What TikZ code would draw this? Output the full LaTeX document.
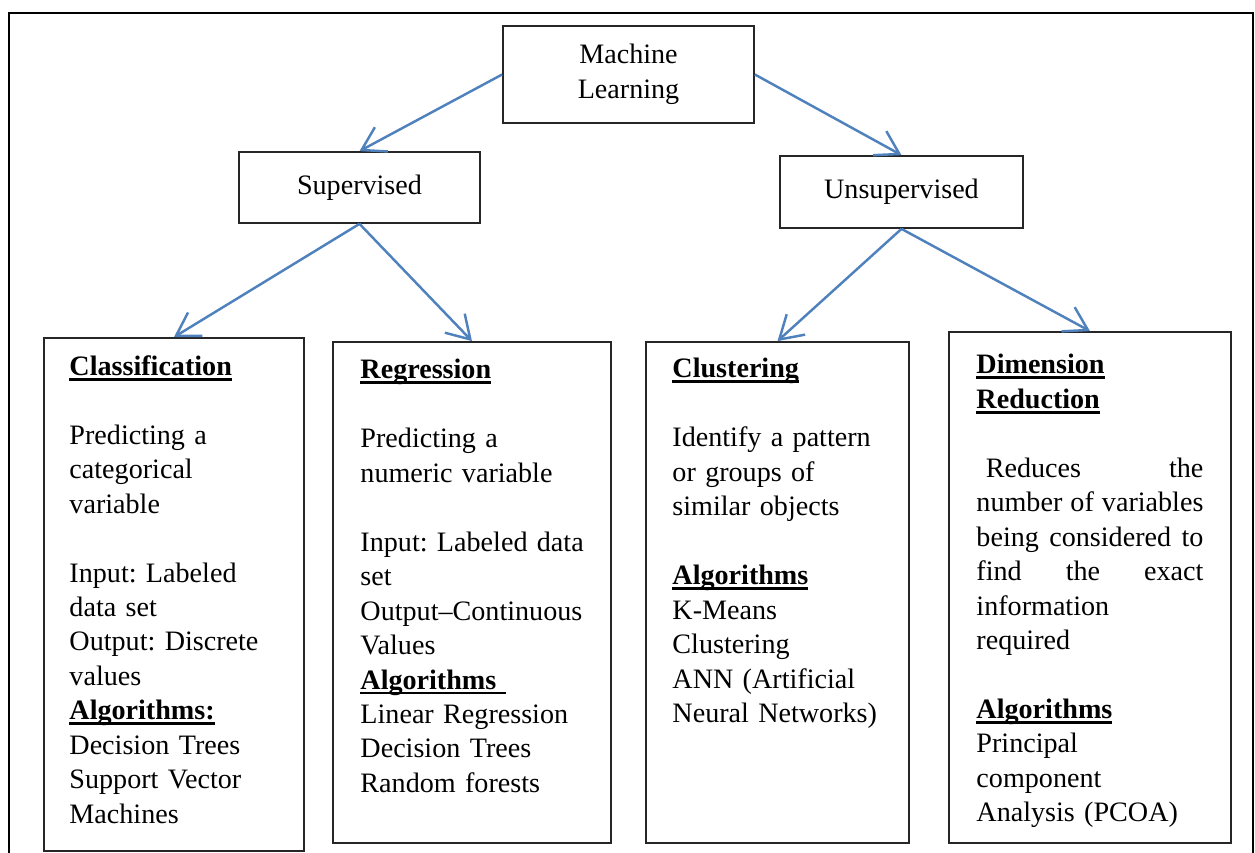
\documentclass[tikz,border=0pt]{standalone}
\usepackage{fontspec}
\setmainfont{Liberation Serif}
\usepackage{tikz}
\usetikzlibrary{shapes.geometric, arrows.meta, positioning}
\definecolor{mlblue}{RGB}{79,129,189}
\setlength{\parindent}{0pt}
\frenchspacing
\newsavebox{\ulbox}
\newcommand{\ulhead}[1]{\leavevmode\sbox{\ulbox}{\textbf{#1}}\rlap{\rule[-3pt]{\wd\ulbox}{1.6pt}}\usebox{\ulbox}}
\tikzstyle{block} = [rectangle, draw=black!85, line width=1pt, align=center, font=\fontsize{16}{19.6}\selectfont]
\tikzstyle{panel} = [rectangle, draw=black!85, line width=1pt]
\tikzstyle{paneltext} = [anchor=north west, inner sep=0pt, align=left, font=\fontsize{16}{19.6}\selectfont]
\tikzstyle{arrow} = [line width=1.4pt, draw=mlblue, -{Straight Barb[length=4.5mm, width=5.5mm]}]

\begin{document}
\begin{tikzpicture}[node distance=2cm]
\useasboundingbox (-12.57,-15.57) rectangle (12.53,1.49);
% Frame
\draw [line width=0.9pt] (-12.39,-15.57) -- (-12.39,1.23) -- (12.49,1.23) -- (12.49,-15.57);

% Top nodes
\node (ml) [block, minimum width=5.02cm, minimum height=1.94cm] {Machine\\Learning};
\node (sup) [block, below of=ml, xshift=-5.38cm, yshift=-0.26cm, minimum width=4.82cm, minimum height=1.42cm] {Supervised};
\node (unsup) [block, below of=ml, xshift=5.46cm, yshift=-0.35cm, minimum width=4.86cm, minimum height=1.44cm] {Unsupervised};

% Panels
\node (cls) [panel, below of=sup, xshift=-3.71cm, yshift=-6.14cm, minimum width=5.2cm, minimum height=10.26cm] {};
\node (reg) [panel, below of=sup, xshift=2.25cm, yshift=-6.10cm, minimum width=5.56cm, minimum height=10.02cm] {};
\node (clu) [panel, below of=unsup, xshift=-2.48cm, yshift=-6.01cm, minimum width=5.26cm, minimum height=10.02cm] {};
\node (dim) [panel, below of=unsup, xshift=3.77cm, yshift=-5.91cm, minimum width=5.64cm, minimum height=10.22cm] {};

% Panel texts
\node (clstext) [paneltext, text width=4.2cm] at ([xshift=0.52cm, yshift=-0.36cm]cls.north west) {\ulhead{Classification}\\[0.69cm]
Predicting a\\ categorical\\ variable\\[0.69cm]
Input: Labeled\\ data set\\ Output: Discrete\\ values\\
\ulhead{Algorithms:}\\ Decision Trees\\ Support Vector\\ Machines};
\node (regtext) [paneltext, text width=4.7cm] at ([xshift=0.56cm, yshift=-0.36cm]reg.north west) {\ulhead{Regression}\\[0.69cm]
Predicting a\\ numeric variable\\[0.69cm]
Input: Labeled data\\ set\\ Output--Continuous\\ Values\\
\ulhead{Algorithms\ }\\ Linear Regression\\ Decision Trees\\ Random forests};
\node (clutext) [paneltext, text width=4.3cm] at ([xshift=0.54cm, yshift=-0.34cm]clu.north west) {\ulhead{Clustering}\\[0.69cm]
Identify a pattern\\ or groups of\\ similar objects\\[0.69cm]
\ulhead{Algorithms}\\ K-Means\\ Clustering\\ ANN (Artificial\\ Neural Networks)};
\node (dimtext) [paneltext, text width=4.54cm] at ([xshift=0.56cm, yshift=-0.46cm]dim.north west) {\ulhead{Dimension}\\ \ulhead{Reduction}\\[0.69cm]
\ Reduces\hfill the\\ number\hfill of\hfill variables\\ being\hfill considered\hfill to\\ find\hfill the\hfill exact\\ information\\ required\\[0.69cm]
\ulhead{Algorithms}\\ Principal\\ component\\ Analysis (PCOA)};

% Arrows
\draw [arrow] (ml.west) -- (sup.north);
\draw [arrow] (ml.east) -- (unsup.north);
\draw [arrow] (sup.south) -- (cls.north);
\draw [arrow] (sup.south) -- (reg.north);
\draw [arrow] (unsup.south) -- (clu.north);
\draw [arrow] (unsup.south) -- (dim.north);
\end{tikzpicture}
\end{document}
